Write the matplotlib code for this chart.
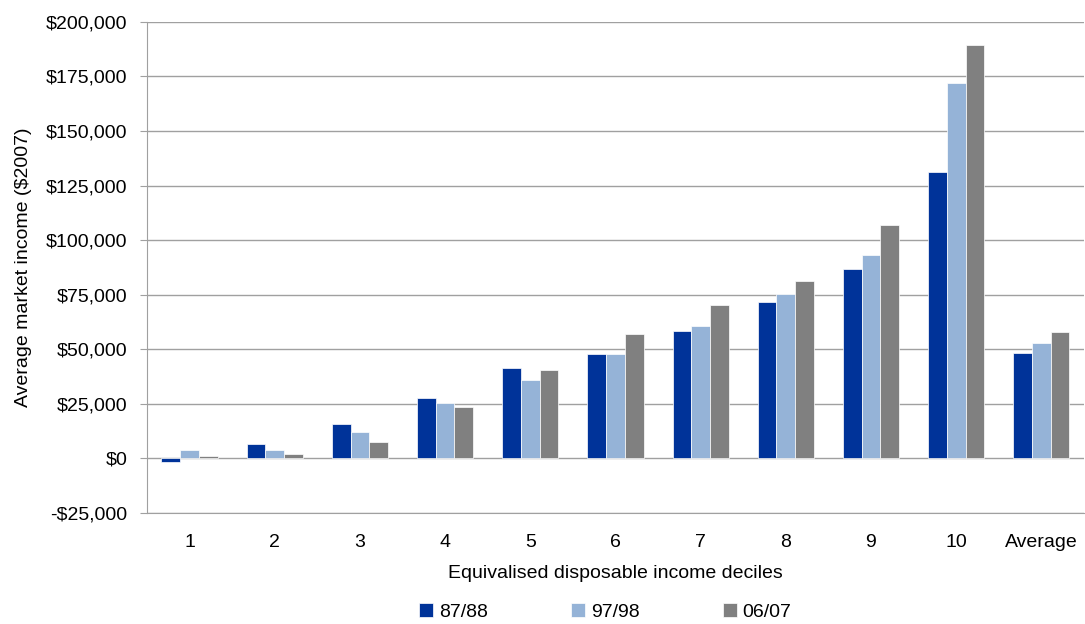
import matplotlib.pyplot as plt
import matplotlib.ticker as mticker
import numpy as np

plt.rcParams['font.family'] = ['Liberation Sans', 'DejaVu Sans']

# deciles and values
categories = ['1', '2', '3', '4', '5', '6', '7', '8', '9', '10', 'Average']
inc_8788 = [-1500, 6600, 15600, 27500, 41300, 47700, 58300, 71600, 86700, 131000, 48300]
inc_9798 = [3700, 3700, 12100, 25200, 35800, 47700, 60500, 75200, 93100, 172200, 52800]
inc_0607 = [900, 2000, 7600, 23400, 40400, 56900, 70200, 81200, 106900, 189300, 57800]
series_names = ['87/88', '97/98', '06/07']
colours = ['#003399', '#95B3D7', '#808080']

fig = plt.figure(figsize=(10.85, 6.24), dpi=100)
ax = fig.add_axes([0.1355, 0.178, 0.8635, 0.787])

x = np.arange(len(categories))
w = 0.22
for i, (vals, name, col) in enumerate(zip([inc_8788, inc_9798, inc_0607], series_names, colours)):
    ax.bar(x + (i - 1) * w, vals, width=w, color=col, label=name,
           edgecolor='white', linewidth=0.5, zorder=3)

ax.set_xlim(-0.5, len(categories) - 0.5)
ax.set_ylim(-25000, 200000)
ax.yaxis.set_major_locator(mticker.MultipleLocator(25000))
ax.yaxis.set_major_formatter(mticker.FuncFormatter(
    lambda v, p: '-${:,.0f}'.format(-v) if v < 0 else '${:,.0f}'.format(v)))
ax.set_xticks(x)
ax.set_xticklabels(categories)
ax.grid(axis='y', color='#A0A0A0', linewidth=1, zorder=0)
for s in ['top', 'right']:
    ax.spines[s].set_visible(False)
for s in ['left', 'bottom']:
    ax.spines[s].set_color('#A0A0A0')
ax.tick_params(axis='y', length=5, color='#A0A0A0', labelsize=14, pad=9)
ax.tick_params(axis='x', length=0, labelsize=14, pad=15)

ax.set_xlabel('Equivalised disposable income deciles', fontsize=14, labelpad=10)
ax.set_ylabel('Average market income ($2007)', fontsize=14, labelpad=10)

fig.legend(loc='center', bbox_to_anchor=(0.558, 0.019), ncol=3, frameon=False,
           fontsize=14, handlelength=0.7, handleheight=0.7, handletextpad=0.3,
           columnspacing=4.3)

fig.savefig('out.png', dpi=100)
